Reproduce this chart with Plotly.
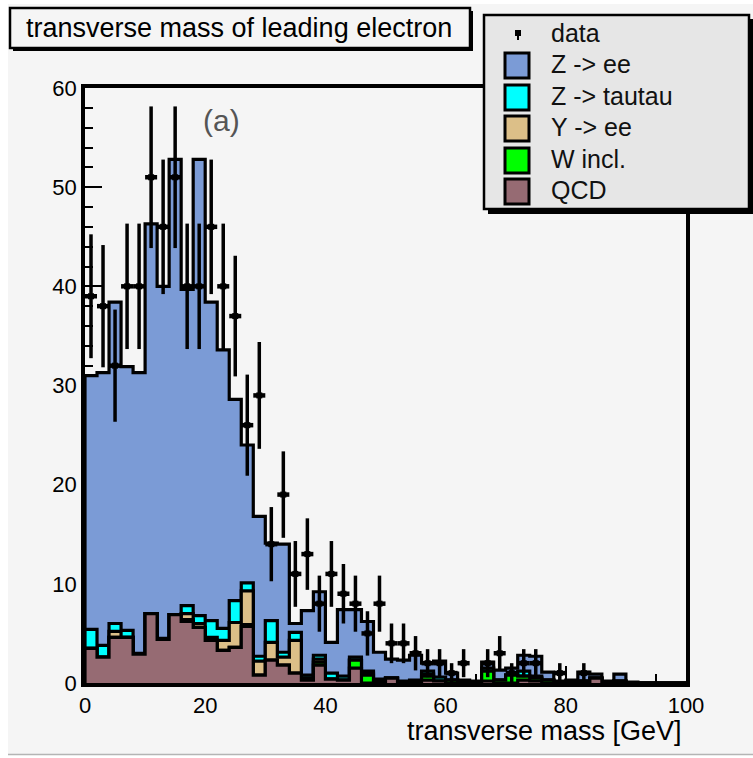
import numpy as np
import plotly.graph_objects as go

# ---- histogram contents: 50 bins of 2 GeV between 0 and 100 GeV ----
bin_edges = list(range(0, 102, 2))

qcd = [3.5, 2.6, 4.6, 4.6, 2.9, 7.0, 4.4, 6.9, 6.2, 5.6,
       4.3, 3.3, 3.6, 5.7, 0.8, 2.3, 1.8, 1.0, 0.3, 1.8,
       0.4, 0.3, 1.5, 0.0, 0.1, 0.5, 0.0, 0.0, 0.3, 0.2,
       0.0, 0.0, 0.0, 0.2, 0.0, 0.0, 0.3, 0.2, 0.0, 0.0,
       0.0, 0.0, 0.5, 0.0, 0.0, 0.0, 0.0, 0.0, 0.0, 0.0]
w_incl = [0.0, 0.0, 0.0, 0.0, 0.0, 0.0, 0.0, 0.0, 0.2, 0.0,
          0.0, 0.0, 0.0, 0.2, 0.0, 0.0, 0.0, 0.0, 0.2, 0.3,
          0.0, 0.0, 0.8, 0.8, 0.2, 0.0, 0.1, 0.1, 0.4, 0.0,
          0.3, 0.0, 0.0, 1.0, 0.3, 0.8, 0.4, 0.3, 0.3, 0.0,
          0.1, 0.2, 0.0, 0.0, 0.2, 0.0, 0.0, 0.0, 0.0, 0.0]
upsilon_ee = [0.0, 0.0, 0.6, 0.0, 0.0, 0.0, 0.0, 0.0, 0.6, 0.4,
              0.3, 1.0, 2.5, 3.4, 1.4, 1.8, 0.8, 3.3, 0.0, 0.3,
              0.0, 0.0, 0.0, 0.2, 0.0, 0.0, 0.0, 0.0, 0.2, 0.0,
              0.0, 0.0, 0.0, 0.0, 0.0, 0.0, 0.0, 0.0, 0.0, 0.0,
              0.0, 0.0, 0.0, 0.0, 0.0, 0.0, 0.0, 0.0, 0.0, 0.0]
z_tautau = [1.9, 1.2, 0.8, 0.7, 0.1, 0.0, 0.1, 0.0, 0.8, 0.8,
            1.7, 1.2, 2.2, 0.8, 0.5, 2.2, 0.5, 0.8, 0.3, 0.4,
            0.6, 0.4, 0.3, 0.2, 0.1, 0.0, 0.1, 0.2, 0.3, 0.4,
            0.0, 0.1, 0.0, 0.3, 0.0, 0.0, 0.5, 0.2, 0.0, 0.0,
            0.0, 0.0, 0.0, 0.0, 0.0, 0.0, 0.0, 0.0, 0.0, 0.0]
z_ee = [25.6, 27.5, 32.4, 26.6, 28.3, 39.3, 35.5, 45.9, 31.9, 46.0,
        32.1, 28.1, 20.3, 13.9, 14.1, 7.8, 10.9, 0.9, 6.5, 6.4,
        3.1, 6.7, 4.8, 5.0, 2.7, 1.9, 2.1, 2.5, 0.8, 1.6,
        0.7, 0.2, 0.2, 0.6, 1.0, 0.7, 1.6, 2.0, 0.8, 0.2,
        0.2, 0.9, 0.4, 0.2, 0.7, 0.1, 0.0, 0.0, 0.0, 0.0]
data_counts = [39, 38, 32, 40, 40, 51, 46, 51, 40, 40,
               46, 40, 37, 26, 29, 14, 19, 11, 13, 8,
               11, 9, 8, 5, 8, 4, 4, 3, 2, 2,
               1, 2, 0, 2, 3, 1, 2, 2, 0, 1,
               0, 1, 0, 0, 0, 0, 0, 0, 0, 0]

x_ticks = [0, 20, 40, 60, 80, 100]
y_ticks = [0, 10, 20, 30, 40, 50, 60]

# ---- page geometry (pixels) ----
W, H = 753, 758
ML, MR, MT, MB = 85, 67, 88, 75
PW, PH = W - ML - MR, H - MT - MB


def fx(px):
    return (px - ML) / PW


def fy(py):
    return (H - MB - py) / PH


FONT = "Liberation Sans, Arial, sans-serif"
BG = "#f5f5f5"

fig = go.Figure()

# stacked components, drawn from the full sum down to the lowest one
stack_specs = [
    ("Z -> ee", "#7b9bd6"),
    ("Z -> tautau", "#00ffff"),
    ("Y -> ee", "#dcbf88"),
    ("W incl.", "#00ff00"),
    ("QCD", "#966b73"),
]
layers = [np.array(qcd), np.array(w_incl), np.array(upsilon_ee),
          np.array(z_tautau), np.array(z_ee)]
cumulative = np.cumsum(np.vstack(layers), axis=0)  # row k = sum of first k+1
for k, (name, color) in enumerate(stack_specs):
    top = cumulative[len(layers) - 1 - k]
    xs = [0] + bin_edges[:-1] + [bin_edges[-1], bin_edges[-1]]
    ys = [0.0] + list(top) + [top[-1], 0.0]
    fig.add_trace(go.Scatter(
        x=xs, y=ys, mode="lines", line=dict(shape="hv", color="black", width=3.2),
        fill="tozeroy", fillcolor=color, name=name, showlegend=False,
        hoverinfo="skip"))

# data points with Poisson errors and bin-width horizontal bars
centers = [(bin_edges[i] + bin_edges[i + 1]) / 2 for i in range(len(data_counts))]
dx = [c for c, n in zip(centers, data_counts) if n > 0]
dy = [n for n in data_counts if n > 0]
fig.add_trace(go.Scatter(
    x=dx, y=dy, mode="markers", name="data", showlegend=False,
    marker=dict(symbol="square", size=6, color="black"),
    error_y=dict(type="data", array=list(np.sqrt(dy)), color="black", thickness=3.5, width=0),
    error_x=dict(type="constant", value=1.0, color="black", thickness=4.5, width=0),
))

shapes = []
annotations = []

# pad background, with the thin rule at its lower edge
shapes.append(dict(type="rect", xref="paper", yref="paper", layer="below",
                   x0=fx(8), x1=fx(W), y0=fy(4), y1=fy(754),
                   fillcolor=BG, line=dict(width=0)))
shapes.append(dict(type="line", xref="paper", yref="paper", layer="above",
                   x0=fx(8), x1=fx(W), y0=fy(754.5), y1=fy(754.5),
                   line=dict(color="#b4b4b4", width=1.5)))

# title box with drop shadow
shapes.append(dict(type="rect", xref="paper", yref="paper", layer="above",
                   x0=fx(13), x1=fx(473), y0=fy(51), y1=fy(11),
                   fillcolor="black", line=dict(width=0)))
shapes.append(dict(type="rect", xref="paper", yref="paper", layer="above",
                   x0=fx(10), x1=fx(470), y0=fy(48), y1=fy(8),
                   fillcolor=BG, line=dict(color="black", width=2.5)))
annotations.append(dict(text="transverse mass of leading electron", xref="paper", yref="paper",
                        x=fx(239), y=fy(28), xanchor="center", yanchor="middle",
                        showarrow=False, font=dict(family=FONT, size=27, color="black")))

# legend box with drop shadow
shapes.append(dict(type="rect", xref="paper", yref="paper", layer="above",
                   x0=fx(488), x1=fx(753), y0=fy(214), y1=fy(19),
                   fillcolor="black", line=dict(width=0)))
shapes.append(dict(type="rect", xref="paper", yref="paper", layer="above",
                   x0=fx(484), x1=fx(749), y0=fy(209), y1=fy(15),
                   fillcolor="#e6e6e6", line=dict(color="black", width=2.5)))

legend_rows = [("data", None)] + [(n, c) for n, c in stack_specs]
row_y = [33, 64, 96, 127, 159, 190]
for (label, color), yc in zip(legend_rows, row_y):
    if color is None:
        shapes.append(dict(type="rect", xref="paper", yref="paper", layer="above",
                           x0=fx(515), x1=fx(521), y0=fy(36), y1=fy(30),
                           fillcolor="black", line=dict(width=0)))
        shapes.append(dict(type="line", xref="paper", yref="paper", layer="above",
                           x0=fx(518), x1=fx(518), y0=fy(40), y1=fy(30),
                           line=dict(color="black", width=2)))
    else:
        shapes.append(dict(type="rect", xref="paper", yref="paper", layer="above",
                           x0=fx(505), x1=fx(529), y0=fy(yc + 14), y1=fy(yc - 11),
                           fillcolor=color, line=dict(color="black", width=3)))
    annotations.append(dict(text=label, xref="paper", yref="paper",
                            x=fx(549), y=fy(yc), xanchor="left", yanchor="middle",
                            showarrow=False, font=dict(family=FONT, size=25, color="#111")))

# panel tag and x-axis title
annotations.append(dict(text="(a)", xref="paper", yref="paper",
                        x=fx(221), y=fy(120), xanchor="center", yanchor="middle",
                        showarrow=False, font=dict(family=FONT, size=30, color="#555")))
annotations.append(dict(text="transverse mass [GeV]", xref="paper", yref="paper",
                        x=fx(684), y=fy(731), xanchor="right", yanchor="middle",
                        showarrow=False, font=dict(family=FONT, size=27, color="black")))

fig.update_layout(
    width=W, height=H,
    margin=dict(l=ML, r=MR, t=MT, b=MB, pad=0),
    paper_bgcolor="white", plot_bgcolor=BG,
    showlegend=False,
    shapes=shapes, annotations=annotations,
    xaxis=dict(range=[0, 100], tickvals=x_ticks, ticks="inside", ticklen=17, tickwidth=2,
               tickcolor="black", minor=dict(dtick=5, tick0=0, ticks="inside", ticklen=9,
                                             tickwidth=2, tickcolor="black"),
               showline=True, linewidth=3.5, linecolor="black", mirror=True,
               showgrid=False, zeroline=False, layer="below traces",
               tickfont=dict(family=FONT, size=22, color="black")),
    yaxis=dict(range=[0, 60], tickvals=y_ticks, ticks="inside", ticklen=17, tickwidth=2,
               tickcolor="black", minor=dict(dtick=2, tick0=0, ticks="inside", ticklen=8,
                                             tickwidth=2, tickcolor="black"),
               showline=True, linewidth=3.5, linecolor="black", mirror=True,
               showgrid=False, zeroline=False, layer="below traces",
               tickfont=dict(family=FONT, size=22, color="black")),
)

fig.write_html("out.html")
